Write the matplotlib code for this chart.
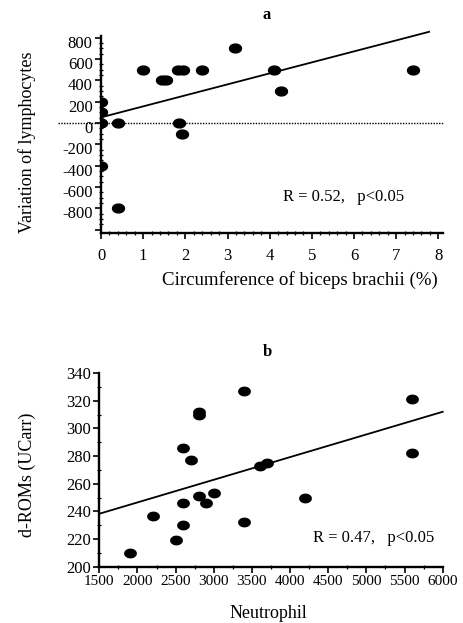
import numpy as np
import matplotlib
matplotlib.use("Agg")
import matplotlib.pyplot as plt
from matplotlib.path import Path
from matplotlib.ticker import MultipleLocator, FixedLocator
import matplotlib.transforms as mtransforms

plt.rcParams['font.family'] = ['Liberation Serif', 'DejaVu Serif']

# Panel a data
biceps_x = [0, 0, 0, 0, 0.41, 0.41, 1.0, 1.45, 1.55, 1.82, 1.95, 1.85, 1.92, 2.4, 3.17, 4.1, 4.28, 7.4]
lymph_y = [200, 100, 0, -400, 0, -800, 500, 400, 400, 500, 500, 0, -100, 500, 700, 500, 300, 500]
fit_a = (53.0, 103.0)       # intercept, slope
fit_a_range = (0.0, 7.78)
label_a = "R = 0.52,   p<0.05"

# Panel b data
neut_x = [1900, 2200, 2500, 2600, 2600, 2600, 2700, 2800, 2800, 2800, 2900, 3000, 3400, 3400,
          3600, 3700, 4200, 5600, 5600]
drom_y = [210, 237, 219, 246, 230, 286, 277, 251, 310, 312, 246, 253, 327, 232,
          273, 275, 250, 321, 282]
fit_b = (213.7, 0.01638)
fit_b_range = (1500, 6000)
label_b = "R = 0.47,   p<0.05"

t = np.linspace(0, 2 * np.pi, 60)
ell = Path(np.column_stack([np.cos(t), 0.74 * np.sin(t)]))

fig = plt.figure(figsize=(4.63, 6.23), dpi=100)
W, H = 463, 623

def ax_rect(l, r, top, bot):
    return [l / W, 1 - bot / H, (r - l) / W, (bot - top) / H]

axa = fig.add_axes(ax_rect(101, 443, 36, 233))
axb = fig.add_axes(ax_rect(99.3, 442.7, 373, 566.7))

for ax in (axa, axb):
    for s in ('top', 'right'):
        ax.spines[s].set_visible(False)
    for s in ('left', 'bottom'):
        ax.spines[s].set_linewidth(1.7)
    ax.tick_params(which='major', direction='out', length=4, width=1.2, labelsize=12, pad=2)
    ax.tick_params(which='minor', direction='inout', length=3, width=0.9)

# ---- Panel a
axa.scatter(biceps_x, lymph_y, marker=ell, s=8.6 ** 2, color='black', zorder=3)
xa = np.array(fit_a_range)
axa.plot(xa, fit_a[0] + fit_a[1] * xa, color='black', lw=1.3, clip_on=False)
axa.plot([-0.126, 1.0], [0, 0], transform=axa.get_yaxis_transform(), color='black',
         lw=1.0, ls=(0, (1, 1)), clip_on=False, zorder=1)
axa.set_xlim(0, 8.11)
axa.set_ylim(-1030, 815)
axa.xaxis.set_major_locator(MultipleLocator(1))
axa.xaxis.set_minor_locator(MultipleLocator(0.2))
axa.yaxis.set_major_locator(FixedLocator(list(range(-1000, 801, 200))))
axa.yaxis.set_minor_locator(MultipleLocator(50))
axa.set_yticklabels([''] + [str(v) for v in range(-800, 801, 200)])
axa.tick_params(axis='x', labelsize=12, pad=7)
off = mtransforms.ScaledTranslation(0, -4 / 100, fig.dpi_scale_trans)
for lab in axa.get_yticklabels():
    lab.set_transform(lab.get_transform() + off)
fig.text(267 / W, 1 - 15 / H, 'a', ha='center', va='center', fontsize=12, fontweight='bold')
fig.text(283 / W, 1 - 197 / H, label_a, ha='left', va='center', fontsize=12)
fig.text(27 / W, 1 - 142 / H, 'Variation of lymphocytes', rotation=90, ha='center', va='center', fontsize=13)
fig.text(438 / W, 1 - 280 / H, 'Circumference of biceps brachii (%)', ha='right', va='center', fontsize=13.6)

# ---- Panel b
axb.scatter(neut_x, drom_y, marker=ell, s=8.2 ** 2, color='black', zorder=3)
xb = np.array(fit_b_range)
axb.plot(xb, fit_b[0] + fit_b[1] * xb, color='black', lw=1.3, clip_on=False)
axb.set_xlim(1500, 6000)
axb.set_ylim(200, 340)
axb.xaxis.set_major_locator(MultipleLocator(500))
axb.xaxis.set_minor_locator(MultipleLocator(250))
axb.yaxis.set_major_locator(MultipleLocator(20))
axb.yaxis.set_minor_locator(MultipleLocator(10))
axb.tick_params(axis='x', labelsize=11)
fig.text(267 / W, 1 - 352 / H, 'b', ha='center', va='center', fontsize=12, fontweight='bold')
fig.text(313 / W, 1 - 538 / H, label_b, ha='left', va='center', fontsize=12)
fig.text(27 / W, 1 - 475 / H, 'd-ROMs (UCarr)', rotation=90, ha='center', va='center', fontsize=13)
fig.text(268 / W, 1 - 613 / H, 'Neutrophil', ha='center', va='center', fontsize=13)

fig.savefig('out.png', dpi=100)
